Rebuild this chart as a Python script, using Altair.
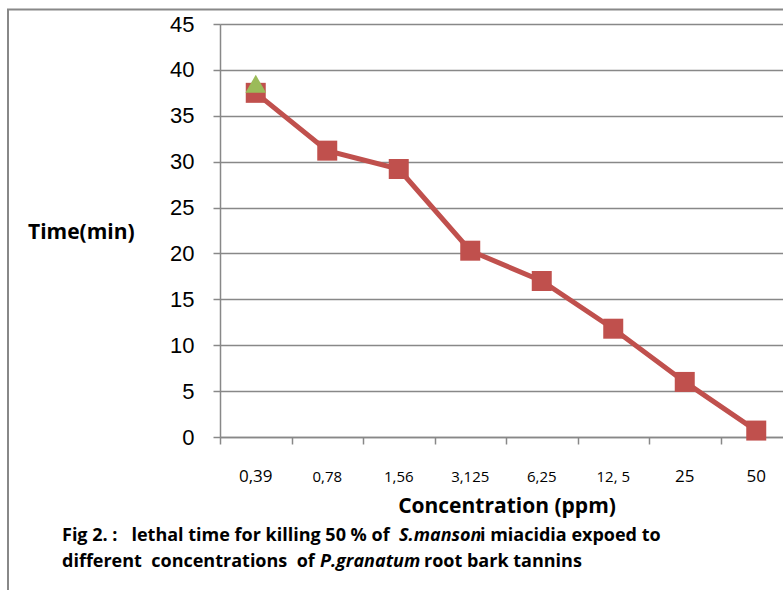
import altair as alt
import pandas as pd

# ---- data ----
concentrations = ["0,39", "0,78", "1,56", "3,125", "6,25", "12, 5", "25", "50"]
time_min = [37.5, 31.2, 29.2, 20.3, 17.0, 11.8, 6.0, 0.7]
triangle_conc = ["0,39"]
triangle_time = [38.5]
big_labels = ["0,39", "25", "50"]
y_ticks = [0, 5, 10, 15, 20, 25, 30, 35, 40, 45]

y_title = "Time(min)"
x_title = "Concentration (ppm)"
caption_line1 = ["Fig 2. :   lethal time for killing 50 % of ", "S.manson", "i miacidia expoed to"]
caption_line2 = ["different  concentrations  of ", "P.granatum", " root bark tannins"]

df = pd.DataFrame({"conc": concentrations, "time": time_min, "idx": list(range(len(concentrations)))})
dft = pd.DataFrame({"conc": triangle_conc, "time": triangle_time,
                    "idx": [concentrations.index(c) for c in triangle_conc]})

W, H = 563, 413
band = 71.5
xdom = [-0.5, -0.5 + W / band]
GRID = "#888888"
RED = "#C0504D"
GREEN = "#9BBB59"

xscale = alt.Scale(domain=xdom, nice=False, zero=False)
yscale = alt.Scale(domain=[0, 45], nice=False)

xaxis = alt.Axis(values=[i - 0.5 for i in range(len(concentrations))], labels=False, title=None,
                 grid=False, ticks=True, tickSize=7, tickColor=GRID, tickWidth=1.5,
                 domain=True, domainColor=GRID, domainWidth=1.5)
yaxis = alt.Axis(values=y_ticks, title=None, grid=True, gridColor=GRID, gridWidth=1.5,
                 ticks=True, tickSize=7, tickColor=GRID, tickWidth=1.5,
                 domain=True, domainColor=GRID, domainWidth=1.5,
                 labelFont="Liberation Sans", labelFontSize=22, labelColor="black",
                 labelPadding=19)

base = alt.Chart(df)

line = base.mark_line(color=RED, strokeWidth=5).encode(
    x=alt.X("idx:Q", scale=xscale, axis=xaxis),
    y=alt.Y("time:Q", scale=yscale, axis=yaxis),
)
squares = base.mark_point(shape="square", filled=True, size=400, color=RED, opacity=1).encode(
    x=alt.X("idx:Q", scale=xscale),
    y=alt.Y("time:Q", scale=yscale),
)
tri = alt.Chart(dft).mark_point(shape="triangle-up", filled=True, size=430, color=GREEN, opacity=1).encode(
    x=alt.X("idx:Q", scale=xscale),
    y=alt.Y("time:Q", scale=yscale),
)

test = " || ".join([f"datum.conc == '{b}'" for b in big_labels])
xlabels = base.mark_text(font="Open Sans", baseline="alphabetic", align="center", color="black").encode(
    x=alt.X("idx:Q", scale=xscale),
    y=alt.value(457.5),
    text="conc:N",
    size=alt.condition(test, alt.value(17), alt.value(15)),
)

one = alt.Data(values=[{"a": 1}])

def nb(s):
    return s.replace(" ", "\u00a0")

def txt(s, x, y, size, italic=False, bold=True, align="left"):
    kw = dict(text=nb(s), font="Open Sans", fontSize=size, fontWeight="bold" if bold else "normal",
              align=align, baseline="alphabetic", color="black")
    if italic:
        kw["fontStyle"] = "italic"
    return alt.Chart(one).mark_text(**kw).encode(x=alt.value(x), y=alt.value(y))

CAP = 18
texts = [
    txt(y_title, -192, 215, 21),
    txt(x_title, 287, 489, 21, align="center"),
    txt(caption_line1[0], -158, 517, CAP),
    txt(caption_line1[1], 179, 517, CAP, italic=True),
    txt(caption_line1[2], 260, 517, CAP),
    txt(caption_line2[0], -158, 543, CAP),
    txt(caption_line2[1], 100, 543, CAP, italic=True),
    txt(caption_line2[2], 204, 543, CAP),
]

border = alt.Chart(one).mark_rect(fill=None, stroke=GRID, strokeWidth=2).encode(
    x=alt.value(-212), y=alt.value(-14.5), x2=alt.value(700), y2=alt.value(700)
)

chart = alt.layer(border, line, squares, tri, xlabels, *texts).properties(
    width=W, height=H,
    autosize=alt.AutoSizeParams(type="none"),
    padding={"left": 220, "top": 24, "right": 0, "bottom": 153},
).configure_view(stroke=None).configure(background="white")

chart.save("out.html", embed_options={"renderer": "svg", "actions": False})
